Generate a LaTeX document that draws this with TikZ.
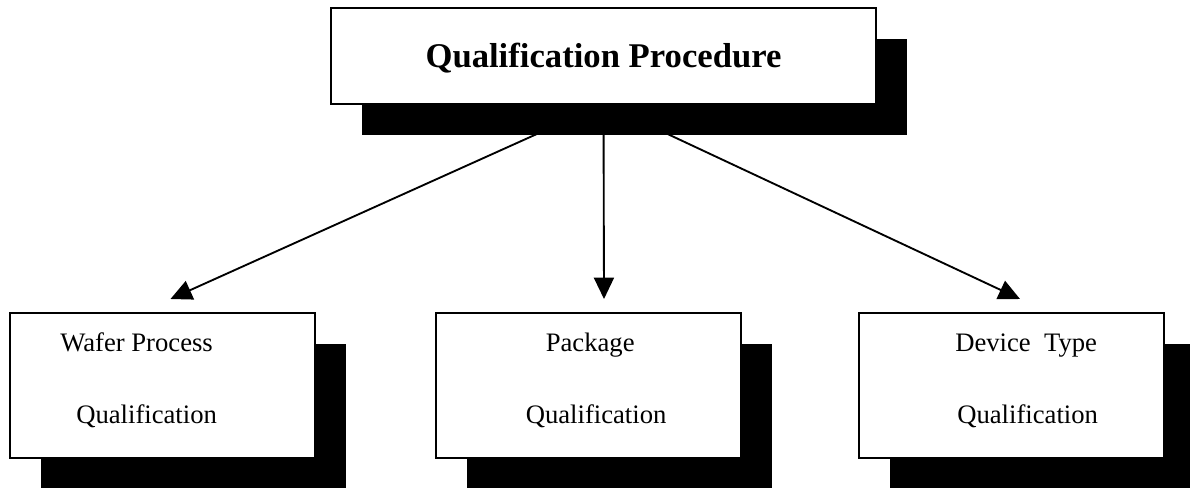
\documentclass[tikz,border=0pt]{standalone}
\usepackage{fontspec}
\setmainfont{Liberation Serif}
\usetikzlibrary{arrows.meta,shadows}

\tikzset{
  shadowbox/.style={draw, fill=white, line width=1.5pt, inner sep=0pt, outer sep=0pt,
    drop shadow={shadow xshift=23.25pt, shadow yshift=-23.25pt, opacity=1, fill=black}},
  topbox/.style={shadowbox, minimum width=408.75pt, minimum height=72pt,
    text height=18pt, text depth=0pt,
    font=\fontsize{26}{30}\selectfont\bfseries},
  stagebox/.style={shadowbox, minimum width=228.75pt, minimum height=108.75pt},
  stagetext/.style={anchor=base west, inner sep=0pt, font=\fontsize{20}{24}\selectfont},
  flow/.style={line width=1.4pt, -{Triangle[length=16pt,width=15pt]}}
}

\begin{document}
\begin{tikzpicture}[x=0.75pt,y=0.75pt,yscale=-1,xscale=1]
\useasboundingbox (0,0) rectangle (1190,488);

%Shape: Rectangle
\node[topbox] (proc) at (603.5,56) {Qualification Procedure};

%Shape: Rectangle
\node[stagebox] (wafer) at (162.5,385.5) {};
%Shape: Rectangle
\node[stagebox] (pkg) at (588,385.5) {};
%Shape: Rectangle
\node[stagebox] (dev) at (1011.5,385.5) {};

%Straight Lines
\draw[flow] (proc.south) -- ([shift={(8,-14)}]wafer.north);
%Straight Lines
\draw[flow] (proc.south) -- ([shift={(16,-14)}]pkg.north);
%Straight Lines
\draw[flow] (proc.south) -- ([shift={(8.5,-14)}]dev.north);

% Text Node
\node[stagetext] (waferA) at ([shift={(50,39)}]wafer.north west) {Wafer Process};
% Text Node
\node[stagetext] (waferB) at ([shift={(66,111)}]wafer.north west) {Qualification};
% Text Node
\node[stagetext] (pkgA) at ([shift={(110,39)}]pkg.north west) {Package};
% Text Node
\node[stagetext] (pkgB) at ([shift={(90,111)}]pkg.north west) {Qualification};
% Text Node
\node[stagetext] (devA) at ([shift={(96,39)}]dev.north west) {Device\ \ Type};
% Text Node
\node[stagetext] (devB) at ([shift={(98,111)}]dev.north west) {Qualification};

\end{tikzpicture}
\end{document}
